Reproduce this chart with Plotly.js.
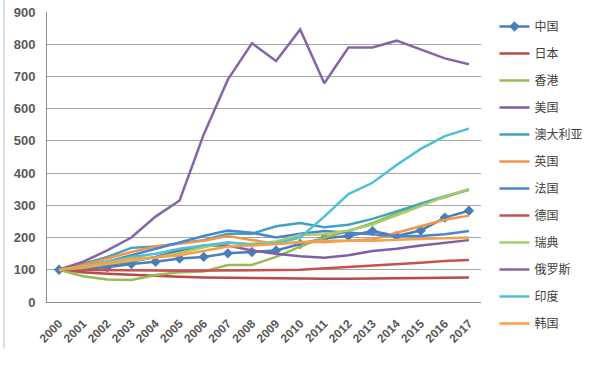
<!DOCTYPE html>
<html>
<head>
<meta charset="utf-8">
<script src="https://cdn.plot.ly/plotly-3.0.1.min.js"></script>
<style>html,body{margin:0;padding:0;background:#fff;}#chart{width:600px;height:385px;}</style>
</head>
<body>
<div id="chart"></div>
<script>
var years = ["2000","2001","2002","2003","2004","2005","2006","2007","2008","2009","2010","2011","2012","2013","2014","2015","2016","2017"];
var seriesNames = ["中国","日本","香港","美国","澳大利亚","英国","法国","德国","瑞典","俄罗斯","印度","韩国"];
var china     = [100,103,108,118,125,135,140,151,155,160,180,198,205,220,205,222,262,283];
var japan     = [100,92,88,84,80,78,76,75,74,72,72,72,72,73,74,75,75,76];
var hongkong  = [100,80,70,68,84,92,95,115,115,140,172,200,220,245,275,305,325,350];
var usa       = [100,107,115,125,140,160,175,175,160,150,142,137,145,158,165,175,183,192];
var australia = [100,118,140,168,172,182,192,212,212,235,245,232,240,258,282,305,328,348];
var uk        = [100,115,135,155,172,180,190,205,192,180,186,186,190,195,215,235,255,268];
var france    = [100,110,125,145,165,185,205,222,215,200,212,220,215,210,205,205,210,220];
var germany   = [100,100,99,98,98,97,97,98,98,99,100,104,108,113,118,122,127,130];
var sweden    = [100,106,118,128,138,152,170,185,180,188,208,210,222,240,268,298,328,350];
var russia    = [100,125,160,200,265,315,520,690,803,748,846,679,790,790,811,784,756,738];
var india     = [100,110,125,140,150,165,175,185,178,182,200,265,335,370,425,475,515,538];
var korea     = [100,110,122,135,138,145,158,172,175,180,185,190,190,190,193,195,198,200];

var seriesValues = [china,japan,hongkong,usa,australia,uk,france,germany,sweden,russia,india,korea];
var colors = ["#4A7EBB","#B94A48","#98B954","#7D60A0","#3FA3C0","#F39446","#4A86CF","#C8504E","#A8CC68","#8466A8","#4DC0D6","#F7A04A"];

var traces = seriesNames.map(function(n,i){
  var t = {
    x: years, y: seriesValues[i], name: n, type: "scatter",
    mode: i===0 ? "lines+markers" : "lines",
    line: {color: colors[i], width: 2.5},
    legendgroup: "g"+i
  };
  if (i===0) t.marker = {symbol:"diamond", size:8, color: colors[i]};
  return t;
});

var layout = {
  width: 600, height: 385,
  margin: {l:47, r:110, t:12, b:83},
  paper_bgcolor: "#fff", plot_bgcolor: "#fff",
  showlegend: true,
  legend: {x:1.031, xanchor:"left", y:1.0, yanchor:"top", tracegroupgap:8, maxheight:400,
           font:{family:"Noto Sans CJK SC", size:12, color:"#404040"}, bgcolor:"rgba(0,0,0,0)"},
  xaxis: {type:"category", range:[-0.5,17.5], showgrid:false, showline:true, linecolor:"#8C8C8C", linewidth:1, automargin:false,
          tickangle:-45, ticks:"", ticklabelstandoff:9, tickfont:{family:"Liberation Sans", size:12, color:"#595959", weight:"bold"},
          mirror:false, zeroline:false},
  yaxis: {range:[0,900], dtick:100, showgrid:true, gridcolor:"#A6A6A6", gridwidth:1, automargin:false,
          showline:true, linecolor:"#8C8C8C", linewidth:1, ticks:"", zeroline:false, ticklabelstandoff:8,
          tickfont:{family:"Liberation Sans", size:13, color:"#595959", weight:"bold"}},
  shapes: [
    {type:"line", xref:"paper", yref:"paper", x0:-0.0993, x1:-0.0993, y0:1.04, y1:-0.16, line:{color:"#BFBFBF", width:1}}
  ]
};
Plotly.newPlot("chart", traces, layout, {displayModeBar:false, staticPlot:true});
</script>
</body>
</html>
